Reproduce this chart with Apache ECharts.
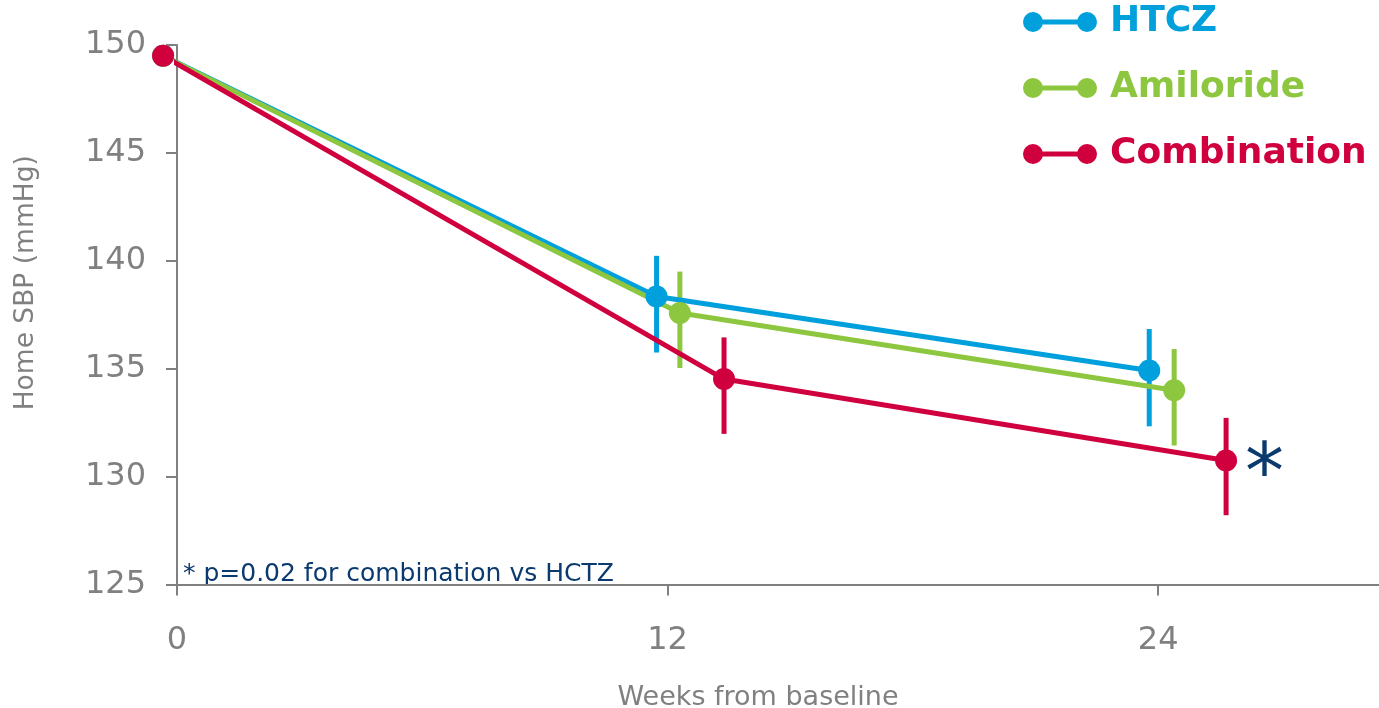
<!DOCTYPE html>
<html>
<head>
<meta charset="utf-8">
<script src="https://cdn.jsdelivr.net/npm/echarts@6/dist/echarts.min.js"></script>
<style>
html,body{margin:0;padding:0;background:#fff;}
#chart{width:1379px;height:708px;}
</style>
</head>
<body>
<div id="chart"></div>
<script>
// ---- data ----
const seriesNames = ['HTCZ', 'Amiloride', 'Combination'];
const xTickValues = [0, 12, 24];
const yTickValues = [125, 130, 135, 140, 145, 150];
// plotted x positions (weeks, slightly dodged per group)
const htczX = [-0.34, 11.73, 23.78];
const amilorideX = [-0.34, 12.30, 24.39];
const combinationX = [-0.34, 13.38, 25.66];
// mean home SBP (mmHg)
const htczY = [149.5, 138.35, 134.92];
const amilorideY = [149.5, 137.58, 134.0];
const combinationY = [149.5, 134.52, 130.75];
// error bar bounds (visits 12 and 24)
const htczLow = [null, 135.75, 132.33];
const htczHigh = [null, 140.23, 136.84];
const amilorideLow = [null, 135.03, 131.44];
const amilorideHigh = [null, 139.50, 135.91];
const combinationLow = [null, 131.98, 128.21];
const combinationHigh = [null, 136.45, 132.72];
const footnote = '* p=0.02 for combination vs HCTZ';

const colors = ['#00a0dc', '#8dc63f', '#d0003f'];
const navy = '#0b3a6e';
const gray = '#808080';
const FONT = 'DejaVu Sans';

const groups = [
  {x: htczX, y: htczY, lo: htczLow, hi: htczHigh},
  {x: amilorideX, y: amilorideY, lo: amilorideLow, hi: amilorideHigh},
  {x: combinationX, y: combinationY, lo: combinationLow, hi: combinationHigh}
];

const series = [];
groups.forEach((g, i) => {
  const errData = [];
  g.x.forEach((xv, k) => {
    if (g.lo[k] != null) errData.push([xv, g.lo[k], g.hi[k]]);
  });
  series.push({
    name: seriesNames[i] + ' error',
    type: 'custom',
    clip: false,
    z: 2,
    silent: true,
    encode: {x: 0, y: [1, 2]},
    data: errData,
    renderItem: function (params, api) {
      const p1 = api.coord([api.value(0), api.value(1)]);
      const p2 = api.coord([api.value(0), api.value(2)]);
      return {
        type: 'line',
        shape: {x1: p1[0], y1: p1[1], x2: p2[0], y2: p2[1]},
        style: {stroke: colors[i], lineWidth: 5}
      };
    }
  });
});
groups.forEach((g, i) => {
  const data = g.x.map((xv, k) => [xv, g.y[k]]);
  if (i === 2) {
    const last = data.length - 1;
    data[last] = {
      value: data[last],
      label: {
        show: true, position: 'right', formatter: '*',
        color: navy, fontSize: 78, fontFamily: FONT,
        offset: [3, 17]
      }
    };
  }
  series.push({
    name: seriesNames[i],
    type: 'line',
    clip: false,
    z: 3,
    data: data,
    symbol: 'circle',
    symbolSize: 22,
    showAllSymbol: true,
    lineStyle: {color: colors[i], width: 5},
    itemStyle: {color: colors[i]},
    emphasis: {disabled: true},
    animation: false
  });
});

const iconPath = 'path://M0,10 A10,10 0 1,0 20,10 A10,10 0 1,0 0,10 Z M54,10 A10,10 0 1,0 74,10 A10,10 0 1,0 54,10 Z M19,7.5 L19,12.5 L55,12.5 L55,7.5 Z';

const chart = echarts.init(document.getElementById('chart'), null, {renderer: 'canvas'});
chart.setOption({
  animation: false,
  backgroundColor: '#ffffff',
  textStyle: {fontFamily: FONT},
  grid: {left: 177, right: 0, top: 45, bottom: 123.5, containLabel: false, outerBoundsMode: 'none'},
  legend: {
    orient: 'vertical',
    left: 1023,
    top: 2,
    padding: 0,
    itemWidth: 74,
    itemHeight: 20,
    itemGap: 26,
    selectedMode: false,
    icon: iconPath,
    data: seriesNames.map((n, i) => ({
      name: n,
      itemStyle: {color: colors[i]},
      textStyle: {color: colors[i]}
    })),
    textStyle: {fontFamily: FONT, fontSize: 36, fontWeight: 'bold', lineHeight: 40, padding: [0, 0, 0, 8]}
  },
  xAxis: {
    type: 'value',
    min: 0,
    max: 29.4,
    interval: 12,
    name: 'Weeks from baseline',
    nameLocation: 'middle',
    nameGap: 100,
    nameTextStyle: {color: gray, fontSize: 27, fontFamily: FONT, padding: [0, 40, 0, 0]},
    splitLine: {show: false},
    axisLine: {show: true, onZero: false, lineStyle: {color: gray, width: 2}},
    axisTick: {show: true, length: 11, lineStyle: {color: gray, width: 2}, customValues: xTickValues},
    axisLabel: {color: gray, fontSize: 32, fontFamily: FONT, margin: 40, customValues: xTickValues}
  },
  yAxis: {
    type: 'value',
    min: 125,
    max: 150,
    interval: 5,
    name: 'Home SBP (mmHg)',
    nameLocation: 'middle',
    nameGap: 137,
    nameTextStyle: {color: gray, fontSize: 26.5, fontFamily: FONT, padding: [0, 0, 0, 64]},
    splitLine: {show: false},
    axisLine: {show: true, onZero: false, lineStyle: {color: gray, width: 2}},
    axisTick: {show: true, length: 11, lineStyle: {color: gray, width: 2}, customValues: yTickValues},
    axisLabel: {color: gray, fontSize: 32, fontFamily: FONT, margin: 31, customValues: yTickValues}
  },
  graphic: [{
    type: 'text',
    left: 183,
    top: 562,
    style: {text: footnote, fill: navy, fontSize: 25, fontFamily: FONT}
  }],
  series: series
});
</script>
</body>
</html>
